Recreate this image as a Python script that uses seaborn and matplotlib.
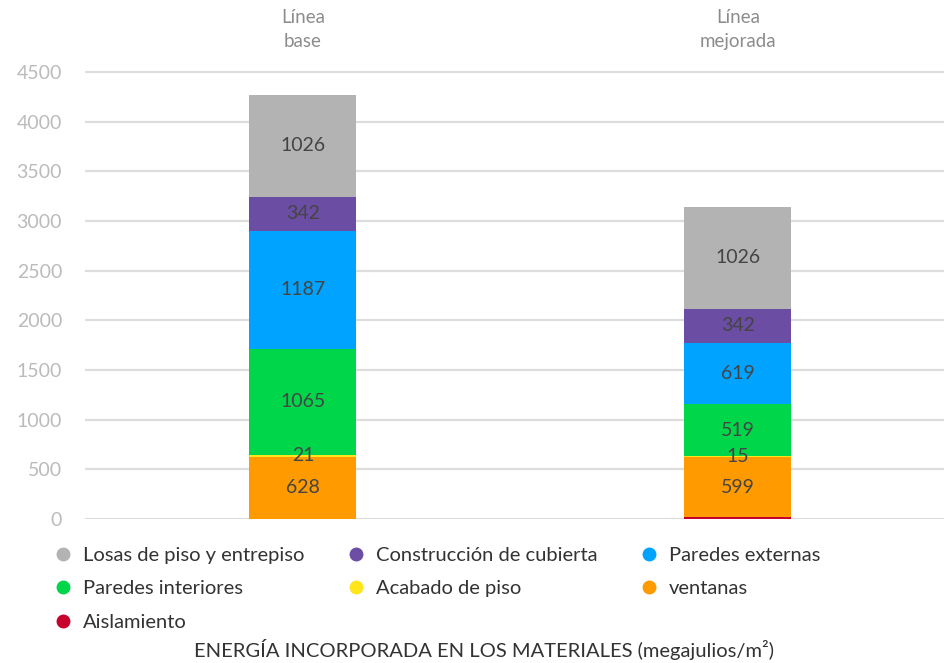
import matplotlib
matplotlib.use("Agg")
import matplotlib.pyplot as plt
from matplotlib.lines import Line2D
import seaborn as sns
import numpy as np
import pandas as pd

categories = ["Línea\nbase", "Línea\nmejorada"]
series_names = ["Aislamiento", "ventanas", "Acabado de piso", "Paredes interiores",
                "Paredes externas", "Construcción de cubierta", "Losas de piso y entrepiso"]
aislamiento = [0, 22]
ventanas = [628, 599]
acabado = [21, 15]
interiores = [1065, 519]
externas = [1187, 619]
cubierta = [342, 342]
losas = [1026, 1026]
show_label = [False, True, True, True, True, True, True]
colors = ["#c8002e", "#ff9a00", "#ffe51a", "#00d64a", "#00a3ff", "#6b4ea3", "#b3b3b3"]
yticks = [0, 500, 1000, 1500, 2000, 2500, 3000, 3500, 4000, 4500]

series = [aislamiento, ventanas, acabado, interiores, externas, cubierta, losas]

sns.set_theme(style="white")
plt.rcParams['font.family'] = ['Lato', 'DejaVu Sans']

fig = plt.figure(figsize=(9.45, 6.63), dpi=100)
ax = fig.add_axes([85/945, 1-519/663, 860/945, (519-70)/663])

bottom = np.zeros(len(categories))
for name, vals, col, lab in zip(series_names, series, colors, show_label):
    df = pd.DataFrame({"cat": categories, "val": vals})
    sns.barplot(data=df, x="cat", y="val", color=col, width=0.246,
                bottom=bottom.copy(), ax=ax, saturation=1, linewidth=0, zorder=3)
    if lab:
        for i, v in enumerate(vals):
            ax.text(i, bottom[i] + v/2, f"{v}", ha="center", va="center",
                    fontsize=14, color="#444444", zorder=5)
    bottom = bottom + np.array(vals)

ax.set_xlim(-0.501, 1.476)
ax.set_ylim(0, 4520)
ax.set_yticks(yticks)
ax.set_yticklabels([str(t) for t in yticks], color="#bbbbbb", fontsize=14)
ax.tick_params(axis="y", length=0, pad=16.5)
ax.yaxis.grid(True, color="#dddddd", linewidth=1.6, zorder=0)
ax.set_axisbelow(True)
ax.xaxis.tick_top()
ax.tick_params(axis="x", length=0, pad=14.5, labelsize=13.5, labelcolor="#8c8c8c")
for t in ax.get_xticklabels():
    t.set_linespacing(1.52)
ax.set_xlabel("")
ax.set_ylabel("")
for s in ax.spines.values():
    s.set_visible(False)

legend_order = ["Losas de piso y entrepiso", "Paredes interiores", "Aislamiento",
                "Construcción de cubierta", "Acabado de piso",
                "Paredes externas", "ventanas"]
cmap = dict(zip(series_names, colors))
handles = [Line2D([0], [0], marker="o", linestyle="", markersize=9,
                  markerfacecolor=cmap[n], markeredgecolor=cmap[n]) for n in legend_order]
fig.legend(handles, legend_order, loc="upper left", ncol=3,
           bbox_to_anchor=(33/945, 1-529/663), frameon=False, fontsize=14.5,
           handletextpad=0.4, columnspacing=1.94, labelspacing=0.8,
           labelcolor="#333333", handlelength=1.2)

fig.text(484/945, 1-650/663, "ENERGÍA INCORPORADA EN LOS MATERIALES (megajulios/m²)",
         ha="center", va="center", fontsize=14.5, color="#333333")

fig.savefig("out.png", dpi=100)
